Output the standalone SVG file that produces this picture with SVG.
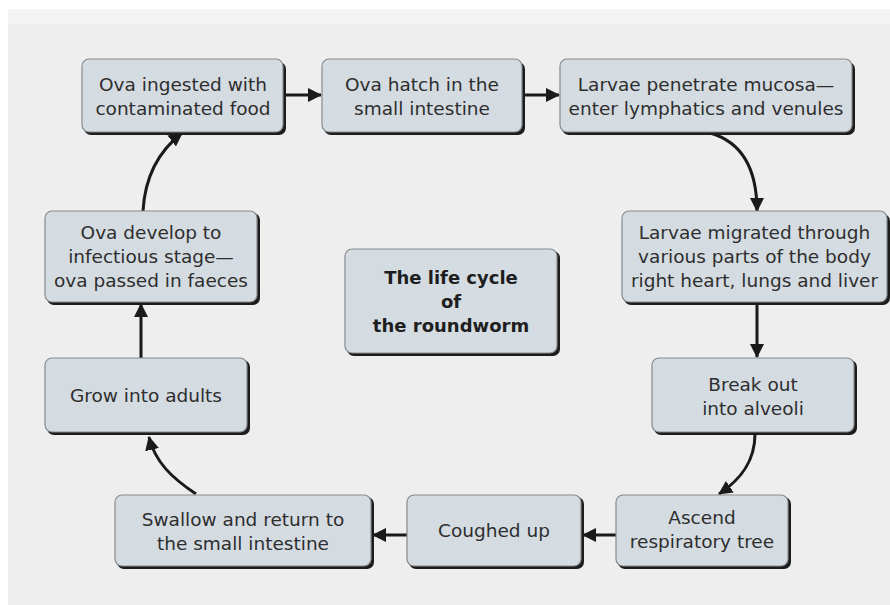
<svg xmlns="http://www.w3.org/2000/svg" width="890" height="605" viewBox="0 0 890 605">
<style>
.sh{fill:#1c1c1c}
.bx{fill:#d4dce2;stroke:#858a8e;stroke-width:1.2}
.t{font-family:"DejaVu Sans","Liberation Sans",sans-serif;font-size:18.5px;fill:#2e2e2e;text-anchor:middle}
.b{font-weight:bold;font-size:18px;fill:#1e1e1e}
.c{fill:none;stroke:#1a1a1a;stroke-width:3}
</style>
<defs>
<marker id="ah" markerUnits="userSpaceOnUse" markerWidth="14" markerHeight="14" refX="13" refY="7" orient="auto">
<path d="M0,0 L14,7 L0,14 z" fill="#1a1a1a"/>
</marker>
</defs>
<rect x="0" y="0" width="890" height="605" fill="#ffffff"/>
<rect x="8" y="9" width="882" height="596" fill="#eeeeee"/>
<rect x="8" y="9" width="882" height="15" fill="#f3f3f3"/>

<g id="connectors">
<path class="c" d="M284,95 L321,95" marker-end="url(#ah)"/>
<path class="c" d="M523,95 L559,95" marker-end="url(#ah)"/>
<path class="c" d="M710,133 C742,142 757,168 757,211" marker-end="url(#ah)"/>
<path class="c" d="M757,303 L757,357" marker-end="url(#ah)"/>
<path class="c" d="M755,434 C755,462 740,480 719,494" marker-end="url(#ah)"/>
<path class="c" d="M616,535 L583,535" marker-end="url(#ah)"/>
<path class="c" d="M407,535 L373,535" marker-end="url(#ah)"/>
<path class="c" d="M196,494 C172,478 155,462 149,437" marker-end="url(#ah)"/>
<path class="c" d="M141,358 L141,304" marker-end="url(#ah)"/>
<path class="c" d="M143,211 C145,176 160,150 182,133" marker-end="url(#ah)"/>
</g>

<g id="n1">
<rect class="sh" x="84" y="62" width="202" height="73" rx="7"/>
<rect class="bx" x="82" y="59" width="201" height="73" rx="7"/>
<text class="t" x="183" y="90.5">Ova ingested with</text>
<text class="t" x="183" y="114.5">contaminated food</text>
</g>
<g id="n2">
<rect class="sh" x="324" y="62" width="201" height="73" rx="7"/>
<rect class="bx" x="322" y="59" width="200" height="73" rx="7"/>
<text class="t" x="422" y="90.5">Ova hatch in the</text>
<text class="t" x="422" y="114.5">small intestine</text>
</g>
<g id="n3">
<rect class="sh" x="562" y="62" width="293" height="73" rx="7"/>
<rect class="bx" x="560" y="59" width="292" height="73" rx="7"/>
<text class="t" x="706" y="90.5">Larvae penetrate mucosa—</text>
<text class="t" x="706" y="114.5">enter lymphatics and venules</text>
</g>
<g id="n4">
<rect class="sh" x="624" y="214" width="266" height="91" rx="7"/>
<rect class="bx" x="622" y="211" width="265" height="91" rx="7"/>
<text class="t" x="754.5" y="239">Larvae migrated through</text>
<text class="t" x="754.5" y="263">various parts of the body</text>
<text class="t" x="754.5" y="287">right heart, lungs and liver</text>
</g>
<g id="n5">
<rect class="sh" x="654" y="360" width="203" height="75" rx="7"/>
<rect class="bx" x="652" y="358" width="202" height="74" rx="7"/>
<text class="t" x="753" y="391">Break out</text>
<text class="t" x="753" y="415">into alveoli</text>
</g>
<g id="n6">
<rect class="sh" x="618" y="497" width="173" height="72" rx="7"/>
<rect class="bx" x="616" y="495" width="172" height="71" rx="7"/>
<text class="t" x="702" y="523.5">Ascend</text>
<text class="t" x="702" y="547.5">respiratory tree</text>
</g>
<g id="n7">
<rect class="sh" x="409" y="497" width="175" height="72" rx="7"/>
<rect class="bx" x="407" y="495" width="174" height="71" rx="7"/>
<text class="t" x="494" y="537">Coughed up</text>
</g>
<g id="n8">
<rect class="sh" x="117" y="497" width="257" height="72" rx="7"/>
<rect class="bx" x="115" y="495" width="256" height="71" rx="7"/>
<text class="t" x="243" y="525.5">Swallow and return to</text>
<text class="t" x="243" y="549.5">the small intestine</text>
</g>
<g id="n9">
<rect class="sh" x="47" y="360" width="203" height="75" rx="7"/>
<rect class="bx" x="45" y="358" width="202" height="74" rx="7"/>
<text class="t" x="146" y="402">Grow into adults</text>
</g>
<g id="n10">
<rect class="sh" x="47" y="213" width="213" height="92" rx="7"/>
<rect class="bx" x="45" y="211" width="212" height="91" rx="7"/>
<text class="t" x="151" y="239">Ova develop to</text>
<text class="t" x="151" y="263">infectious stage—</text>
<text class="t" x="151" y="287">ova passed in faeces</text>
</g>
<g id="n11">
<rect class="sh" x="347" y="251" width="213" height="105" rx="7"/>
<rect class="bx" x="345" y="249" width="212" height="104" rx="7"/>
<text class="t b" x="451" y="284">The life cycle</text>
<text class="t b" x="451" y="308">of</text>
<text class="t b" x="451" y="332">the roundworm</text>
</g>
</svg>
